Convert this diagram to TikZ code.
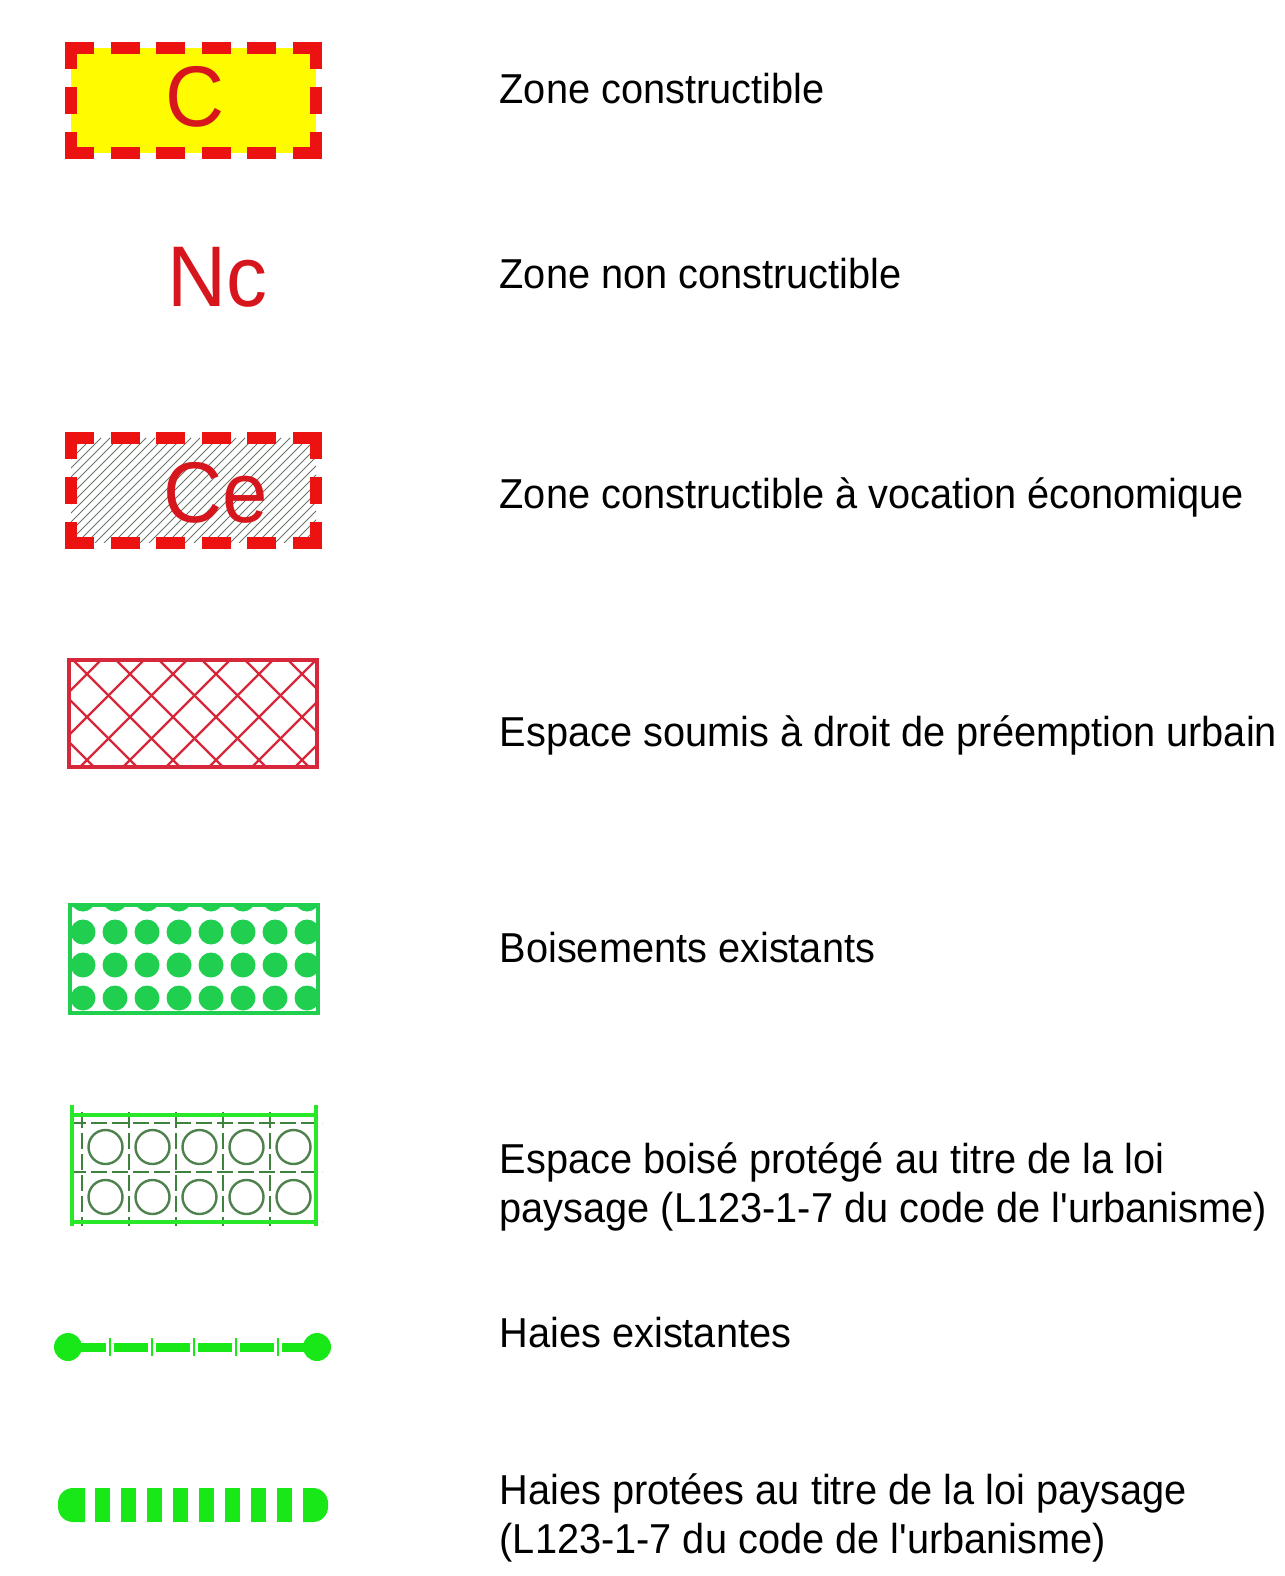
\documentclass[tikz,border=0pt]{standalone}
\usepackage{fontspec}
\setmainfont{Liberation Sans}[Ligatures=TeXOff, FakeStretch=0.95]
\definecolor{zonered}{RGB}{236,18,18}
\definecolor{labelred}{RGB}{214,22,28}
\definecolor{zoneyellow}{RGB}{255,252,0}
\definecolor{hatchgray}{RGB}{105,115,105}
\definecolor{preemptred}{RGB}{214,40,58}
\definecolor{woodgreen}{RGB}{32,206,80}
\definecolor{protgreen}{RGB}{40,232,40}
\definecolor{griddark}{RGB}{62,130,62}
\definecolor{hedgegreen}{RGB}{24,232,24}
\tikzset{
	legtext/.style={anchor=base west, inner sep=0pt, align=left, font=\fontsize{11.9pt}{13.7pt}\selectfont},
	bigred/.style={text=labelred, inner sep=0pt, font=\fontsize{24.5pt}{24.5pt}\selectfont},
	hdash/.style={draw=zonered, line width=1.2mm, dash pattern=on 2.9mm off 1.66mm},
	vdash/.style={draw=zonered, line width=1.2mm, dash pattern=on 2.7mm off 1.8mm},
	hatch/.style={draw=hatchgray, line width=0.1mm},
	lattice/.style={draw=preemptred, line width=0.24mm},
	gridline/.style={draw=griddark, line width=0.24mm, dash pattern=on 1.6mm off 0.5mm},
	ring/.style={draw=griddark!75!gray, line width=0.24mm}
}
\begin{document}
\begin{tikzpicture}[x=0.1mm, y=-0.1mm]
	\useasboundingbox (0,0) rectangle (1284,1576);
	% zone constructible
	\fill[zoneyellow] (71,48) rectangle (316,153);
	\draw[hdash] (65,48) -- (322,48);
	\draw[hdash] (65,153) -- (322,153);
	\draw[vdash] (71,42) -- (71,159);
	\draw[vdash] (316,42) -- (316,159);
	\node[bigred] (symc) at (195,97) {C};
	\node[legtext] (txtc) at (499,104) {Zone constructible};
	% zone non constructible
	\node[bigred] (symnc) at (217,277) {Nc};
	\node[legtext] (txtnc) at (499,289) {Zone non constructible};
	% zone economique
	\begin{scope}
		\clip (71,438) rectangle (316,543);
		\foreach \hx in {-40,-31,...,320}
			\draw[hatch] (\hx,543) -- ++(105,-105);
	\end{scope}
	\draw[hdash] (65,438) -- (322,438);
	\draw[hdash] (65,543) -- (322,543);
	\draw[vdash] (71,432) -- (71,549);
	\draw[vdash] (316,432) -- (316,549);
	\node[bigred] (symce) at (216,493) {Ce};
	\node[legtext] (txtce) at (499,509) {Zone constructible à vocation économique};
	% preemption
	\begin{scope}
		\clip (69,660) rectangle (317,767);
		\foreach \k in {-4,...,5} {
			\draw[lattice] ({890+43*\k-767},767) -- ({890+43*\k-660},660);
			\draw[lattice] ({-544+43*\k+660},660) -- ({-544+43*\k+767},767);
		}
	\end{scope}
	\draw[preemptred, line width=0.32mm] (69,660) rectangle (317,767);
	\node[legtext] (txtdpu) at (499,746) {Espace soumis à droit de préemption urbain};
	% boisements
	\begin{scope}
		\clip (70,905) rectangle (318,1013);
		\foreach \col in {0,...,7}
			\foreach \row in {0,...,3}
				\fill[woodgreen] ({83+32*\col},{899+33*\row}) circle [radius=12.5];
	\end{scope}
	\draw[woodgreen, line width=0.35mm] (70,905) rectangle (318,1013);
	\node[legtext] (txtbois) at (499,962) {Boisements existants};
	% espace boise protege
	\foreach \gy in {1123,1172,1222}
		\draw[gridline] (70,\gy) -- (322,\gy);
	\foreach \gx in {82,129,176,223,270,317}
		\draw[gridline] (\gx,1112) -- (\gx,1226);
	\foreach \col in {0,...,4}
		\foreach \gy in {1147,1197}
			\draw[ring] ({105.5+47*\col},\gy) circle [radius=17];
	\draw[protgreen, line width=0.35mm] (72,1115) -- (316,1115);
	\draw[protgreen, line width=0.35mm] (72,1222) -- (316,1222);
	\draw[protgreen, line width=0.4mm] (72,1105) -- (72,1226);
	\draw[protgreen, line width=0.4mm] (316,1105) -- (316,1226);
	\node[legtext] (txtebc) at (499,1222) {Espace boisé protégé au titre de la loi\\paysage (L123-1-7 du code de l'urbanisme)};
	% haies existantes
	\draw[hedgegreen, line width=0.9mm, dash pattern=on 3.4mm off 0.8mm] (72,1347) -- (313,1347);
	\foreach \tx in {0,...,4}
		\draw[hedgegreen, line width=0.22mm] ({110+42*\tx},1338) -- ({110+42*\tx},1356);
	\fill[hedgegreen] (68,1347) circle [radius=14];
	\fill[hedgegreen] (317,1347) circle [radius=14];
	\node[legtext] (txthaie) at (499,1347) {Haies existantes};
	% haies protegees
	\fill[hedgegreen] (85,1488) [rounded corners=1.5mm] -- (58,1488) -- (58,1522) [sharp corners] -- (85,1522) -- cycle;
	\foreach \bx in {0,...,7}
		\fill[hedgegreen] ({95+26*\bx},1488) rectangle ++(15,34);
	\fill[hedgegreen] (303,1488) [rounded corners=1.5mm] -- (328,1488) -- (328,1522) [sharp corners] -- (303,1522) -- cycle;
	\node[legtext] (txthp) at (499,1553) {Haies protées au titre de la loi paysage\\(L123-1-7 du code de l'urbanisme)};
\end{tikzpicture}
\end{document}
